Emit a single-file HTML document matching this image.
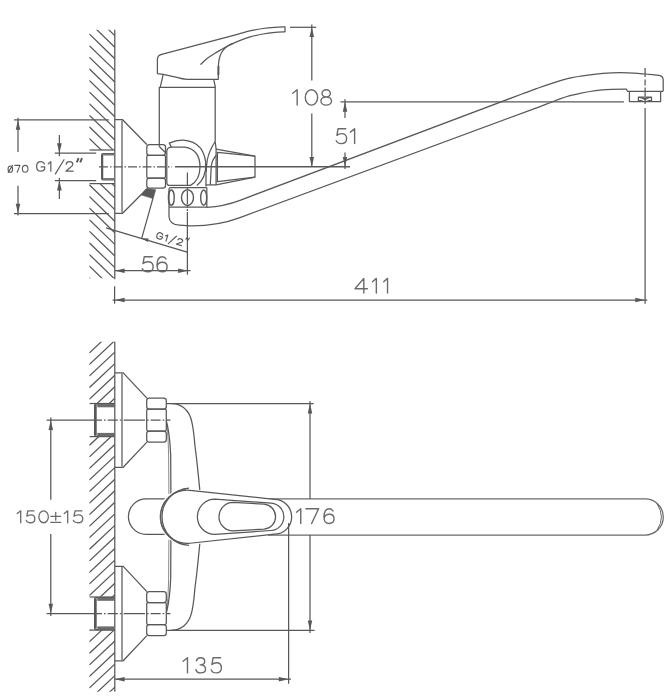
<!DOCTYPE html>
<html>
<head>
<meta charset="utf-8">
<title>Faucet dimensional drawing</title>
<style>
html,body{margin:0;padding:0;background:#fff;}
body{width:666px;height:698px;overflow:hidden;font-family:"Liberation Sans",sans-serif;}
svg{display:block;}
</style>
</head>
<body>
<svg width="666" height="698" viewBox="0 0 666 698">
<rect x="0" y="0" width="666" height="698" fill="#ffffff"/>
<g fill="none" stroke="#585858" stroke-width="1.25" stroke-linecap="butt" stroke-linejoin="round">
<g id="top">
<clipPath id="cw1"><path d="M89.3,29.8H115V150H89.3Z M89.3,183.6H115V278.2H89.3Z"/></clipPath>
<g clip-path="url(#cw1)">
<line x1="89.30" y1="-0.80" x2="114.80" y2="24.00" />
<line x1="89.30" y1="10.80" x2="114.80" y2="35.60" />
<line x1="89.30" y1="22.40" x2="114.80" y2="47.20" />
<line x1="89.30" y1="34.00" x2="114.80" y2="58.80" />
<line x1="89.30" y1="45.60" x2="114.80" y2="70.40" />
<line x1="89.30" y1="57.20" x2="114.80" y2="82.00" />
<line x1="89.30" y1="68.80" x2="114.80" y2="93.60" />
<line x1="89.30" y1="80.40" x2="114.80" y2="105.20" />
<line x1="89.30" y1="92.00" x2="114.80" y2="116.80" />
<line x1="89.30" y1="103.60" x2="114.80" y2="128.40" />
<line x1="89.30" y1="115.20" x2="114.80" y2="140.00" />
<line x1="89.30" y1="126.80" x2="114.80" y2="151.60" />
<line x1="89.30" y1="138.40" x2="114.80" y2="163.20" />
<line x1="89.30" y1="150.00" x2="114.80" y2="174.80" />
<line x1="89.30" y1="161.60" x2="114.80" y2="186.40" />
<line x1="89.30" y1="173.20" x2="114.80" y2="198.00" />
<line x1="89.30" y1="184.80" x2="114.80" y2="209.60" />
<line x1="89.30" y1="196.40" x2="114.80" y2="221.20" />
<line x1="89.30" y1="208.00" x2="114.80" y2="232.80" />
<line x1="89.30" y1="219.60" x2="114.80" y2="244.40" />
<line x1="89.30" y1="231.20" x2="114.80" y2="256.00" />
<line x1="89.30" y1="242.80" x2="114.80" y2="267.60" />
<line x1="89.30" y1="254.40" x2="114.80" y2="279.20" />
<line x1="89.30" y1="266.00" x2="114.80" y2="290.80" />
<line x1="89.30" y1="277.60" x2="114.80" y2="302.40" />
<line x1="89.30" y1="289.20" x2="114.80" y2="314.00" />
<line x1="89.30" y1="300.80" x2="114.80" y2="325.60" />
</g>
<line x1="114.80" y1="29.80" x2="114.80" y2="279.20" />
<line x1="114.60" y1="286.30" x2="114.60" y2="303.70" />
<line x1="89.60" y1="150.00" x2="114.80" y2="150.00" />
<line x1="89.60" y1="183.60" x2="114.80" y2="183.60" />
<line x1="14.00" y1="119.90" x2="108.80" y2="119.90" />
<line x1="14.00" y1="213.50" x2="108.80" y2="213.50" />
<line x1="18.00" y1="117.80" x2="18.00" y2="152.00" />
<line x1="18.00" y1="185.80" x2="18.00" y2="215.60" />
<polygon points="18.00,119.90 15.75,129.70 20.25,129.70" fill="#585858" stroke="none"/>
<polygon points="18.00,213.50 15.75,203.70 20.25,203.70" fill="#585858" stroke="none"/>
<line x1="54.80" y1="153.20" x2="96.20" y2="153.20" />
<line x1="54.80" y1="180.60" x2="96.20" y2="180.60" />
<line x1="59.40" y1="135.00" x2="59.40" y2="156.20" />
<line x1="59.40" y1="177.80" x2="59.40" y2="199.00" />
<polygon points="59.40,153.20 57.05,143.20 61.75,143.20" fill="#585858" stroke="none"/>
<polygon points="59.40,180.60 57.05,190.60 61.75,190.60" fill="#585858" stroke="none"/>
<path d="M114.8,153.6H103 Q101.7,153.6 101.7,154.9 V178.6 Q101.7,179.9 103,179.9 H114.8" />
<line x1="102.30" y1="154.40" x2="102.30" y2="179.20" stroke-width="1.9"/>
<rect x="103.2" y="153.6" width="11.6" height="1.9" fill="#777" stroke="none"/>
<rect x="103.2" y="178.0" width="11.6" height="1.9" fill="#777" stroke="none"/>
<line x1="99.00" y1="166.80" x2="172.00" y2="166.80" stroke-dasharray="9 2 1.5 2"/>
<line x1="175.00" y1="166.80" x2="350.00" y2="166.80" stroke-width="1.4"/>
<path d="M114.8,119.7H122.6L146.8,144.5 M114.8,213.3H122.6L146.8,189" />
<line x1="122.00" y1="120.50" x2="122.00" y2="212.60" />
<path d="M149.40,144.50H162.90Q165.50,144.50 165.50,147.10V152.70Q165.50,155.30 162.90,155.30H149.40Q146.80,155.30 146.80,152.70V147.10Q146.80,144.50 149.40,144.50Z" />
<path d="M148.20,155.30H164.10Q165.50,155.30 165.50,156.70V176.60Q165.50,178.00 164.10,178.00H148.20Q146.80,178.00 146.80,176.60V156.70Q146.80,155.30 148.20,155.30Z" />
<path d="M149.40,178.00H162.90Q165.50,178.00 165.50,180.60V185.60Q165.50,188.20 162.90,188.20H149.40Q146.80,188.20 146.80,185.60V180.60Q146.80,178.00 149.40,178.00Z" />
<polygon points="146.5,188.4 155.7,189.8 153.2,198.6 141.5,195.1" fill="#5a5a5a" stroke="#585858" stroke-width="0.6"/>
<line x1="153.00" y1="198.20" x2="141.70" y2="238.30" />
<line x1="106.00" y1="227.80" x2="188.00" y2="252.30" />
<polygon points="141.6,238.2 148.6,238.6 147.8,242.0" fill="#585858" stroke="none"/>
<path d="M159.3,146.5V87.3H215.2V141.5" />
<path d="M159.3,146.5L165.8,153" />
<path d="M163.2,74.3 L160.2,87.3 M213.7,79.3 L215.4,87.3" />
<path d="M157.4,73.6 L157.4,59.6 Q157.4,55.3 161.6,54.3 L227,37.2 C229.00,36.65 235.00,34.98 239.00,33.90 C243.00,32.82 247.00,31.60 251.00,30.70 C255.00,29.80 259.00,29.07 263.00,28.50 C267.00,27.93 271.33,27.58 275.00,27.30 C278.67,27.02 283.33,26.88 285.00,26.80 L285.0,31.8 C283.33,31.90 278.67,32.03 275.00,32.40 C271.33,32.77 267.00,33.28 263.00,34.00 C259.00,34.72 255.00,35.55 251.00,36.70 C247.00,37.85 242.80,39.40 239.00,40.90 C235.20,42.40 230.77,44.25 228.20,45.70 C225.63,47.15 224.93,47.97 223.60,49.60 C222.27,51.23 221.03,53.27 220.20,55.50 C219.37,57.73 218.92,60.25 218.60,63.00 C218.28,65.75 218.35,70.50 218.30,72.00 L218.3,79.3 L187.2,79.3 Q182,79 178,77.6 L163.2,74.3 Z" />
<path d="M200.50,64.60 C201.58,63.58 204.58,60.38 207.00,58.50 C209.42,56.62 212.67,54.77 215.00,53.30 C217.33,51.83 219.00,50.87 221.00,49.70 C223.00,48.53 225.00,47.33 227.00,46.30 C229.00,45.27 232.00,43.97 233.00,43.50 " />
<path d="M218.5,66 L218.4,75" stroke-width="1.9"/>
<path d="M166.8,182.4 V151 Q167,147.2 172,147.1 L184.7,147.1 Q200,149.5 200,166.9 Q200,180 190.5,185.4 L170,185.4 Q166.8,185.4 166.8,182.4Z" />
<path d="M171.4,147.2 L169.3,143.1 Q176,140 183,140.2 Q194,140.6 200.8,148.3 Q205.9,156 206,167 V186.5" />
<path d="M205.9,163 Q206.2,178.5 196.8,185.4" />
<path d="M215.2,141.5 Q209,151 207.3,160 Q206.3,166 206.2,172" />
<path d="M215.2,141.5 L216.1,149.1 V184.9" />
<path d="M216.1,155.5 Q211.8,160 211.2,167 L210.3,184.9" />
<path d="M205.7,184.9 H216.1" />
<path d="M216.1,149.1 L255,156.2 V177.2 L216.1,184.9" />
<path d="M255,156.2 L217.4,152.3 V181.7 L255,177.2" />
<path d="M206.8,187.6 H170.6 Q169,187.6 169,189.2 V216.5 Q169.3,224.6 179.5,225.2 L190,225.8 C205,226 225,223.2 240,217.6 L540,106.6 C541.67,105.96 546.67,104.05 550.00,102.75 C553.33,101.45 556.67,99.99 560.00,98.80 C563.33,97.61 566.67,96.50 570.00,95.60 C573.33,94.70 576.67,94.08 580.00,93.40 C583.33,92.72 586.67,92.05 590.00,91.50 C593.33,90.95 596.33,90.47 600.00,90.10 C603.67,89.73 607.62,89.47 612.00,89.30 C616.38,89.13 623.92,89.13 626.30,89.10 L627.5,91.3 H663.2" />
<line x1="169.00" y1="207.00" x2="206.80" y2="207.00" />
<line x1="206.80" y1="187.60" x2="206.80" y2="207.40" />
<ellipse cx="171.3" cy="197.65" rx="2.9" ry="7.6" stroke-width="1.4"/>
<ellipse cx="187.5" cy="197.6" rx="6.0" ry="7.9" stroke-width="1.4"/>
<ellipse cx="203.7" cy="197.65" rx="3.0" ry="7.6" stroke-width="1.4"/>
<path d="M206.8,207.4 C215,206.9 228,204.8 240,200.3 L515,96.6 C516.67,95.97 521.67,94.08 525.00,92.85 C528.33,91.62 531.67,90.39 535.00,89.20 C538.33,88.01 541.83,86.78 545.00,85.70 C548.17,84.62 551.00,83.68 554.00,82.70 C557.00,81.72 560.00,80.65 563.00,79.80 C566.00,78.95 569.00,78.22 572.00,77.60 C575.00,76.98 577.33,76.65 581.00,76.10 C584.67,75.55 590.33,74.75 594.00,74.30 C597.67,73.85 600.00,73.64 603.00,73.40 C606.00,73.16 609.00,72.97 612.00,72.85 C615.00,72.72 617.33,72.61 621.00,72.65 C624.67,72.69 630.00,72.88 634.00,73.10 C638.00,73.32 641.88,73.73 645.00,74.00 C648.12,74.27 650.38,74.48 652.70,74.70 C655.02,74.92 657.87,75.20 658.90,75.30 Q663.2,75.8 663.2,80 V91.3" />
<path d="M629.4,91.3 V101.6 H660.6 V91.3" />
<path d="M638.4,101.2 V97 H651.5 V101.2 M638.4,97 L651.5,101.2 M651.5,97 L638.4,101.2" />
<line x1="187.40" y1="172.50" x2="187.40" y2="211.00" stroke-dasharray="13.5 1.6 1.6 1.6"/>
<line x1="187.40" y1="212.00" x2="187.40" y2="274.60" />
<line x1="114.80" y1="270.70" x2="190.50" y2="270.70" />
<polygon points="114.80,270.70 124.60,268.45 124.60,272.95" fill="#585858" stroke="none"/>
<polygon points="188.00,270.70 178.20,268.45 178.20,272.95" fill="#585858" stroke="none"/>
<line x1="112.60" y1="300.10" x2="647.30" y2="300.10" />
<polygon points="114.80,300.10 124.60,297.85 124.60,302.35" fill="#585858" stroke="none"/>
<polygon points="645.10,300.10 635.30,297.85 635.30,302.35" fill="#585858" stroke="none"/>
<line x1="645.10" y1="68.00" x2="645.10" y2="104.00" stroke-dasharray="9 2.5 6 2"/>
<line x1="645.10" y1="108.00" x2="645.10" y2="303.80" />
<line x1="340.50" y1="101.85" x2="623.90" y2="101.85" />
<line x1="345.00" y1="99.20" x2="345.00" y2="118.00" />
<line x1="345.00" y1="152.60" x2="345.00" y2="169.00" />
<polygon points="345.00,101.85 342.75,111.65 347.25,111.65" fill="#585858" stroke="none"/>
<polygon points="345.00,166.80 342.75,157.00 347.25,157.00" fill="#585858" stroke="none"/>
<line x1="290.00" y1="27.30" x2="316.20" y2="27.30" />
<line x1="311.80" y1="24.60" x2="311.80" y2="80.50" />
<line x1="311.80" y1="113.50" x2="311.80" y2="166.80" />
<polygon points="311.80,27.30 309.55,37.10 314.05,37.10" fill="#585858" stroke="none"/>
<polygon points="311.80,166.80 309.55,157.00 314.05,157.00" fill="#585858" stroke="none"/>
</g>
<g id="bot">
<clipPath id="cw2"><path d="M89.3,341.8H115V403.4H89.3Z M89.3,436.5H115V596.8H89.3Z M89.3,629.8H115V691.7H89.3Z"/></clipPath>
<g clip-path="url(#cw2)">
<line x1="89.30" y1="353.00" x2="114.80" y2="329.00" />
<line x1="89.30" y1="364.56" x2="114.80" y2="340.56" />
<line x1="89.30" y1="376.11" x2="114.80" y2="352.11" />
<line x1="89.30" y1="387.67" x2="114.80" y2="363.67" />
<line x1="89.30" y1="399.22" x2="114.80" y2="375.22" />
<line x1="89.30" y1="410.77" x2="114.80" y2="386.77" />
<line x1="89.30" y1="422.33" x2="114.80" y2="398.33" />
<line x1="89.30" y1="433.88" x2="114.80" y2="409.88" />
<line x1="89.30" y1="445.44" x2="114.80" y2="421.44" />
<line x1="89.30" y1="457.00" x2="114.80" y2="433.00" />
<line x1="89.30" y1="468.55" x2="114.80" y2="444.55" />
<line x1="89.30" y1="480.11" x2="114.80" y2="456.11" />
<line x1="89.30" y1="491.66" x2="114.80" y2="467.66" />
<line x1="89.30" y1="503.22" x2="114.80" y2="479.22" />
<line x1="89.30" y1="514.77" x2="114.80" y2="490.77" />
<line x1="89.30" y1="526.33" x2="114.80" y2="502.33" />
<line x1="89.30" y1="537.88" x2="114.80" y2="513.88" />
<line x1="89.30" y1="549.43" x2="114.80" y2="525.43" />
<line x1="89.30" y1="560.99" x2="114.80" y2="536.99" />
<line x1="89.30" y1="572.54" x2="114.80" y2="548.54" />
<line x1="89.30" y1="584.10" x2="114.80" y2="560.10" />
<line x1="89.30" y1="595.65" x2="114.80" y2="571.65" />
<line x1="89.30" y1="607.21" x2="114.80" y2="583.21" />
<line x1="89.30" y1="618.76" x2="114.80" y2="594.76" />
<line x1="89.30" y1="630.32" x2="114.80" y2="606.32" />
<line x1="89.30" y1="641.88" x2="114.80" y2="617.88" />
<line x1="89.30" y1="653.43" x2="114.80" y2="629.43" />
<line x1="89.30" y1="664.99" x2="114.80" y2="640.99" />
<line x1="89.30" y1="676.54" x2="114.80" y2="652.54" />
<line x1="89.30" y1="688.10" x2="114.80" y2="664.10" />
<line x1="89.30" y1="699.65" x2="114.80" y2="675.65" />
<line x1="89.30" y1="711.20" x2="114.80" y2="687.20" />
<line x1="89.30" y1="722.76" x2="114.80" y2="698.76" />
</g>
<line x1="114.80" y1="341.80" x2="114.80" y2="691.70" />
<line x1="89.60" y1="403.50" x2="114.80" y2="403.50" />
<line x1="89.60" y1="436.60" x2="114.80" y2="436.60" />
<path d="M114.8,404.10H96 Q94.6,404.10 94.6,405.50 V434.50 Q94.6,436.10 96.2,436.10 H114.8" />
<line x1="95.60" y1="404.90" x2="95.60" y2="435.10" stroke-width="2.2"/>
<rect x="97.3" y="404.10" width="17.5" height="3.2" fill="#6c6c6c" stroke="none"/>
<rect x="97.3" y="432.90" width="17.5" height="3.2" fill="#6c6c6c" stroke="none"/>
<path d="M114.8,372.90H123.2L146.9,398.10 M114.8,467.30H123.2L146.9,442.10" />
<line x1="122.00" y1="373.60" x2="122.00" y2="466.60" />
<path d="M149.30,398.10H163.70Q166.30,398.10 166.30,400.70V406.60Q166.30,409.20 163.70,409.20H149.30Q146.70,409.20 146.70,406.60V400.70Q146.70,398.10 149.30,398.10Z" />
<path d="M148.10,409.20H164.90Q166.30,409.20 166.30,410.60V429.60Q166.30,431.00 164.90,431.00H148.10Q146.70,431.00 146.70,429.60V410.60Q146.70,409.20 148.10,409.20Z" />
<path d="M149.30,431.00H163.70Q166.30,431.00 166.30,433.60V439.50Q166.30,442.10 163.70,442.10H149.30Q146.70,442.10 146.70,439.50V433.60Q146.70,431.00 149.30,431.00Z" />
<line x1="46.60" y1="420.10" x2="170.40" y2="420.10" stroke-dasharray="55.4 2 1.6 2 10.2 2 1.6 2.3 21.3 2 1.6 2 10 2 1.6 2 4.2"/>
<line x1="89.60" y1="597.00" x2="114.80" y2="597.00" />
<line x1="89.60" y1="630.10" x2="114.80" y2="630.10" />
<path d="M114.8,597.60H96 Q94.6,597.60 94.6,599.00 V628.00 Q94.6,629.60 96.2,629.60 H114.8" />
<line x1="95.60" y1="598.40" x2="95.60" y2="628.60" stroke-width="2.2"/>
<rect x="97.3" y="597.60" width="17.5" height="3.2" fill="#6c6c6c" stroke="none"/>
<rect x="97.3" y="626.40" width="17.5" height="3.2" fill="#6c6c6c" stroke="none"/>
<path d="M114.8,566.40H123.2L146.9,591.60 M114.8,660.80H123.2L146.9,635.60" />
<line x1="122.00" y1="567.10" x2="122.00" y2="660.10" />
<path d="M149.30,591.60H163.70Q166.30,591.60 166.30,594.20V600.10Q166.30,602.70 163.70,602.70H149.30Q146.70,602.70 146.70,600.10V594.20Q146.70,591.60 149.30,591.60Z" />
<path d="M148.10,602.70H164.90Q166.30,602.70 166.30,604.10V623.10Q166.30,624.50 164.90,624.50H148.10Q146.70,624.50 146.70,623.10V604.10Q146.70,602.70 148.10,602.70Z" />
<path d="M149.30,624.50H163.70Q166.30,624.50 166.30,627.10V633.00Q166.30,635.60 163.70,635.60H149.30Q146.70,635.60 146.70,633.00V627.10Q146.70,624.50 149.30,624.50Z" />
<line x1="46.60" y1="613.60" x2="170.40" y2="613.60" stroke-dasharray="55.4 2 1.6 2 10.2 2 1.6 2.3 21.3 2 1.6 2 10 2 1.6 2 4.2"/>
<line x1="50.80" y1="417.50" x2="50.80" y2="499.70" />
<line x1="50.80" y1="534.00" x2="50.80" y2="616.00" />
<polygon points="50.80,420.10 48.55,429.90 53.05,429.90" fill="#585858" stroke="none"/>
<polygon points="50.80,613.60 48.55,603.80 53.05,603.80" fill="#585858" stroke="none"/>
<line x1="166.50" y1="403.60" x2="313.70" y2="403.60" />
<line x1="166.50" y1="630.30" x2="314.60" y2="630.30" />
<path d="M171.50,403.60 C172.50,403.73 175.55,403.80 177.50,404.40 C179.45,405.00 181.62,406.10 183.20,407.20 C184.78,408.30 185.90,409.60 187.00,411.00 C188.10,412.40 189.03,413.93 189.80,415.60 C190.57,417.27 191.10,419.10 191.60,421.00 C192.10,422.90 192.42,424.67 192.80,427.00 C193.18,429.33 193.53,431.83 193.90,435.00 C194.27,438.17 194.57,442.17 195.00,446.00 C195.43,449.83 196.00,453.67 196.50,458.00 C197.00,462.33 197.45,466.67 198.00,472.00 C198.55,477.33 199.50,487.00 199.80,490.00" />
<path d="M171.50,630.10 C172.50,629.97 175.55,629.90 177.50,629.30 C179.45,628.70 181.62,627.60 183.20,626.50 C184.78,625.40 185.90,624.10 187.00,622.70 C188.10,621.30 189.03,619.77 189.80,618.10 C190.57,616.43 191.10,614.60 191.60,612.70 C192.10,610.80 192.42,609.03 192.80,606.70 C193.18,604.37 193.53,601.87 193.90,598.70 C194.27,595.53 194.57,591.53 195.00,587.70 C195.43,583.87 196.00,580.03 196.50,575.70 C197.00,571.37 197.45,567.03 198.00,561.70 C198.55,556.37 199.50,546.70 199.80,543.70" />
<path d="M166.3,420.7 C167.5,425 169,433 170,444 L170.7,455 L170.9,494" />
<path d="M166.30,613.00 C167.50,608.70 169.00,600.70 170.00,589.70 L170.70,578.70 L170.90,539.70" />
<path d="M166.5,423 C167.5,430 168.3,440 168.6,455 L168.9,494" stroke-width="0.7"/>
<path d="M166.50,610.70 C167.50,603.70 168.30,593.70 168.60,578.70 L168.90,539.70" stroke-width="0.7"/>
<path d="M268,498.9 H645 A18.3,18.05 0 0 1 645,535 H268" stroke="#6a6a6a"/>
<path d="M657.2,504 Q665.6,517 657.2,530" stroke-width="0.9"/>
<g fill="#fff">
<path d="M164.8,498.9 L146.1,498.9 A17.7,17.7 0 0 0 146.1,534.3 L164.8,534.3" />
<path d="M187.2,488.1 A28.7,28.7 0 0 0 187.2,545.5 Z" stroke="none"/>
<path d="M190,490.35 A26.6,26.6 0 1 0 190,543.25 L274.3,534.2 A17.4,17.4 0 0 0 274.3,499.4 Z" />
</g>
<path d="M189,488.15 A28.7,28.7 0 0 0 189,545.45" />
<path d="M186,489.25 A27.6,27.6 0 0 0 186,544.35" stroke-width="0.7"/>
<path d="M215,499.15 A17.65,17.65 0 0 0 215,534.45 L271.3,530.5 A13.75,13.75 0 0 0 271.3,503.1 Z" />
<path d="M233.2,502.4 A14.25,14.25 0 0 0 233.2,530.9 L264.2,529.1 A12.5,12.5 0 0 0 264.2,504.2 Z" />
<line x1="310.00" y1="401.20" x2="310.00" y2="499.00" />
<line x1="310.00" y1="535.00" x2="310.00" y2="633.00" />
<polygon points="310.00,403.60 307.75,413.40 312.25,413.40" fill="#585858" stroke="none"/>
<polygon points="310.00,630.30 307.75,620.50 312.25,620.50" fill="#585858" stroke="none"/>
<line x1="288.60" y1="523.00" x2="288.60" y2="683.70" />
<line x1="114.80" y1="679.20" x2="291.00" y2="679.20" />
<polygon points="114.80,679.20 124.60,676.95 124.60,681.45" fill="#585858" stroke="none"/>
<polygon points="288.60,679.20 278.80,676.95 278.80,681.45" fill="#585858" stroke="none"/>
</g>
<path d="M292.70,93.24 L297.17,89.70 L297.17,105.10 M305.30,97.40 C305.30,93.15 308.06,89.70 311.46,89.70 C314.86,89.70 317.62,93.15 317.62,97.40 C317.62,101.65 314.86,105.10 311.46,105.10 C308.06,105.10 305.30,101.65 305.30,97.40 M322.05,93.32 C322.05,91.32 323.92,89.70 326.21,89.70 C328.51,89.70 330.37,91.32 330.37,93.32 C330.37,95.32 328.51,96.94 326.21,96.94 C323.92,96.94 322.05,95.32 322.05,93.32 M320.90,101.02 C320.90,98.77 323.28,96.94 326.21,96.94 C329.15,96.94 331.53,98.77 331.53,101.02 C331.53,103.27 329.15,105.10 326.21,105.10 C323.28,105.10 320.90,103.27 320.90,101.02" stroke="#6a6a6a" stroke-width="1.4" stroke-linecap="round" />
<path d="M345.74,128.70 L338.08,128.70 L336.92,135.41 Q338.80,133.62 341.55,133.62 Q346.61,133.62 346.61,138.53 Q346.61,143.60 341.40,143.60 Q337.21,143.60 336.20,140.62 M350.30,132.13 L354.62,128.70 L354.62,143.60" stroke="#6a6a6a" stroke-width="1.4" stroke-linecap="round" />
<path d="M152.27,256.70 L144.26,256.70 L143.05,263.50 Q145.02,261.68 147.89,261.68 Q153.17,261.68 153.17,266.67 Q153.17,271.80 147.74,271.80 Q143.36,271.80 142.30,268.78 M166.06,258.96 Q165.00,256.70 162.44,256.70 Q157.00,256.70 157.00,265.00 Q157.00,271.80 162.13,271.80 Q167.12,271.80 167.12,266.97 Q167.12,262.29 162.28,262.29 Q157.91,262.29 157.15,266.36" stroke="#6a6a6a" stroke-width="1.4" stroke-linecap="round" />
<path d="M363.82,293.10 L363.82,278.40 L355.00,288.69 L367.35,288.69 M372.50,281.78 L376.34,278.40 L376.34,293.10 M383.70,281.78 L387.54,278.40 L387.54,293.10" stroke="#6a6a6a" stroke-width="1.4" stroke-linecap="round" />
<path d="M296.50,512.18 L300.76,508.80 L300.76,523.50 M305.90,508.80 L318.60,508.80 L311.62,523.50 M333.00,511.00 Q331.95,508.80 329.40,508.80 Q324.00,508.80 324.00,516.88 Q324.00,523.50 329.10,523.50 Q334.05,523.50 334.05,518.80 Q334.05,514.24 329.25,514.24 Q324.90,514.24 324.15,518.21" stroke="#6a6a6a" stroke-width="1.4" stroke-linecap="round" />
<path d="M183.10,661.27 L187.48,657.80 L187.48,672.90 M196.47,660.82 Q197.04,657.80 200.58,657.80 Q204.70,657.80 204.70,661.42 Q204.70,664.75 200.16,664.90 Q205.55,665.05 205.55,668.97 Q205.55,672.90 200.58,672.90 Q196.61,672.90 195.90,669.58 M220.57,657.80 L213.05,657.80 L211.91,664.59 Q213.75,662.78 216.45,662.78 Q221.42,662.78 221.42,667.77 Q221.42,672.90 216.31,672.90 Q212.19,672.90 211.20,669.88" stroke="#6a6a6a" stroke-width="1.4" stroke-linecap="round" />
<path d="M17.25,513.59 L20.70,510.85 L20.70,522.75 M34.10,510.85 L27.80,510.85 L26.84,516.21 Q28.39,514.78 30.65,514.78 Q34.82,514.78 34.82,518.70 Q34.82,522.75 30.53,522.75 Q27.08,522.75 26.25,520.37 M38.85,516.80 C38.85,513.51 40.98,510.85 43.61,510.85 C46.24,510.85 48.37,513.51 48.37,516.80 C48.37,520.09 46.24,522.75 43.61,522.75 C40.98,522.75 38.85,520.09 38.85,516.80 M55.73,512.52 L55.73,520.13 M50.85,516.32 L60.61,516.32 M50.85,522.39 L60.61,522.39 M64.25,513.59 L67.70,510.85 L67.70,522.75 M81.99,510.85 L75.05,510.85 L74.00,516.21 Q75.71,514.78 78.19,514.78 Q82.77,514.78 82.77,518.70 Q82.77,522.75 78.06,522.75 Q74.27,522.75 73.35,520.37" stroke="#6a6a6a" stroke-width="1.3" stroke-linecap="round" />
<path d="M8.05,169.14 C8.05,167.43 9.07,166.04 10.33,166.04 C11.58,166.04 12.60,167.43 12.60,169.14 C12.60,170.86 11.58,172.25 10.33,172.25 C9.07,172.25 8.05,170.86 8.05,169.14 M8.19,172.39 L12.60,165.35 M14.85,165.35 L19.98,165.35 L17.16,172.25 M22.35,168.80 C22.35,166.89 23.61,165.35 25.17,165.35 C26.72,165.35 27.98,166.89 27.98,168.80 C27.98,170.71 26.72,172.25 25.17,172.25 C23.61,172.25 22.35,170.71 22.35,168.80" stroke="#5c5c5c" stroke-width="1.1" stroke-linecap="round" />
<path d="M44.45,163.92 Q43.44,161.62 40.84,161.62 Q36.62,161.62 36.62,166.40 Q36.62,171.18 40.84,171.18 Q43.84,171.18 44.65,169.07 L44.65,166.88 L41.14,166.88 M48.33,163.82 L50.82,161.62 L50.82,171.18 M55.42,173.85 L64.02,159.72 M66.25,164.20 Q66.35,161.62 69.56,161.62 Q72.77,161.62 72.77,164.20 Q72.77,165.92 69.99,167.74 L65.92,171.18 L73.20,171.18" stroke="#606060" stroke-width="1.25" stroke-linecap="round" />
<path d="M76.8,162.4 L78.6,158.2 M80.2,162.4 L82.0,158.2" stroke="#555" stroke-width="1.9" fill="none"/>
<g transform="translate(155.3,238.5) rotate(16.5)">
<path d="M6.27,-5.40 Q5.54,-6.92 3.64,-6.92 Q0.57,-6.92 0.57,-3.75 Q0.57,-0.58 3.64,-0.58 Q5.83,-0.58 6.42,-1.97 L6.42,-3.43 L3.86,-3.43 M9.27,-5.46 L11.02,-6.92 L11.02,-0.58 M13.88,1.20 L19.59,-8.20 M22.11,-5.21 Q22.19,-6.92 24.57,-6.92 Q26.95,-6.92 26.95,-5.21 Q26.95,-4.07 24.89,-2.86 L21.88,-0.58 L27.27,-0.58" stroke="#5a5a5a" stroke-width="1.15" stroke-linecap="round" />
<path d="M29.4,-7.5 L30.4,-10.5 M31.7,-7.5 L32.7,-10.5" stroke="#555" stroke-width="1.1" fill="none"/>
</g>
</g>
</g>
</svg>
</body>
</html>
